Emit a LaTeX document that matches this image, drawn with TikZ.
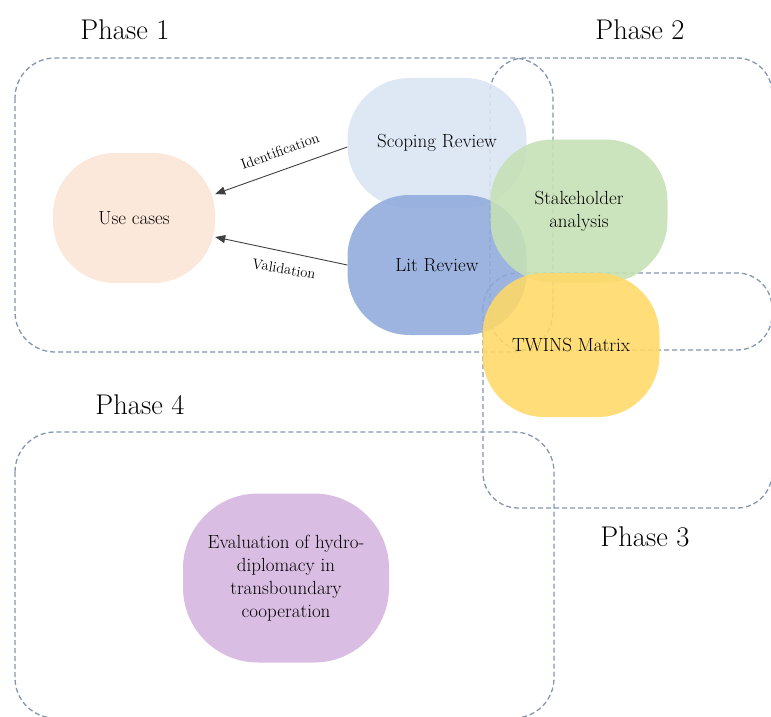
\documentclass[tikz,border=0pt]{standalone}
\usepackage{fontspec}
\usetikzlibrary{arrows.meta}
\definecolor{dashc}{HTML}{8497B0}
\definecolor{peach}{HTML}{FCE5D6}
\definecolor{lightblue}{HTML}{DAE5F4}
\definecolor{midblue}{HTML}{8EAADB}
\definecolor{lightgreen}{HTML}{C5E0B4}
\definecolor{gold}{HTML}{FFD966}
\definecolor{lilac}{HTML}{D5B4DE}
\begin{document}
\begin{tikzpicture}[x=1pt,y=-1pt,
  phasebox/.style={draw=dashc, dash pattern=on 5pt off 3pt, line width=1.3pt},
  blob/.style={rectangle, rounded corners=62pt, fill opacity=0.88, text opacity=1,
    font=\fontsize{19}{23}\selectfont, align=center, inner sep=0pt},
  phaselabel/.style={font=\fontsize{28.5}{32}\selectfont},
  flow/.style={draw=black!75, line width=0.9pt, -{Triangle[length=10pt,width=8pt]}},
  flowlabel/.style={font=\fontsize{14.5}{17}\selectfont}]
\useasboundingbox (0,0) rectangle (771,717);

% phase boxes
\draw[phasebox, rounded corners=40pt] (15,58) rectangle (553,352);
\draw[phasebox, rounded corners=35pt] (490,58) rectangle (772,350);
\draw[phasebox, rounded corners=35pt] (483,273) rectangle (772,508);
\draw[phasebox, rounded corners=40pt] (15,432) rectangle (554,718);

% phase labels
\node[phaselabel] (p1) at (125,30) {Phase 1};
\node[phaselabel] (p2) at (640,30) {Phase 2};
\node[phaselabel] (p4) at (140,405) {Phase 4};
\node[phaselabel] (p3) at (645,537) {Phase 3};

% blobs
\node[blob, fill=peach, minimum width=162pt, minimum height=130pt] (uc) at (134,218) {Use cases};
\node[blob, fill=lightblue, minimum width=179pt, minimum height=130pt] (sr) at (437,143) {Scoping Review};
\node[blob, fill=midblue, minimum width=179pt, minimum height=140pt] (lr) at (437,265) {Lit Review};
\node[blob, fill=lightgreen, minimum width=177pt, minimum height=143pt] (sa) at (579,211) {Stakeholder\\analysis};
\node[blob, fill=gold, minimum width=177pt, minimum height=144pt] (tm) at (571,345) {TWINS Matrix};
\node[blob, fill=lilac, minimum width=206pt, minimum height=169pt, rounded corners=75pt] (ev) at (286,578)
  {Evaluation of hydro-\\diplomacy in\\transboundary\\cooperation};

% connectors
\draw[flow] ([yshift=-4pt]sr.west) -- ([yshift=24pt]uc.east);
\draw[flow] (lr.west) -- ([yshift=-19pt]uc.east);
\node[flowlabel, rotate=20] (lid) at (280,151) {Identification};
\node[flowlabel, rotate=-10] (lval) at (284,269) {Validation};
\end{tikzpicture}
\end{document}
